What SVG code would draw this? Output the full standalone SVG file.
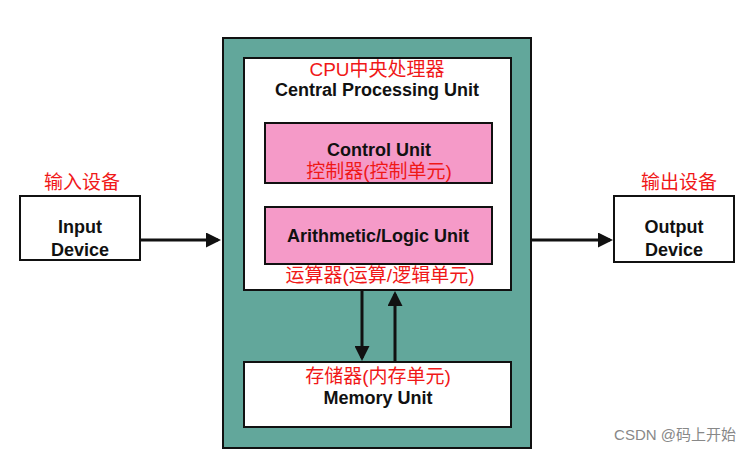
<svg xmlns="http://www.w3.org/2000/svg" width="751" height="452" viewBox="0 0 751 452">
<style>
.b{stroke:#111;stroke-width:2}
.en{font-family:"Liberation Sans",Arial,sans-serif;font-weight:bold;font-size:18px;fill:#111;text-anchor:middle}
.cn{font-family:"Liberation Sans","Noto Sans CJK SC",sans-serif;font-size:19px;fill:#f01818;text-anchor:middle}
.c{stroke:#111;stroke-width:3;fill:none}
</style>
<defs><marker id="a" markerWidth="5" markerHeight="5" refX="4" refY="2.5" orient="auto" markerUnits="strokeWidth"><path d="M0,0L5,2.5L0,5z" fill="#111"/></marker></defs>
<rect width="751" height="452" fill="#fff"/>
<g id="cpu-outer"><rect x="223" y="38" width="308" height="410" fill="#62a79b" class="b"/></g>
<g id="cpu"><rect x="244" y="58" width="267" height="232" fill="#fff" class="b"/>
<text x="377" y="76" class="cn">CPU中央处理器</text>
<text x="377" y="96" class="en">Central Processing Unit</text></g>
<g id="control"><rect x="265" y="123" width="227" height="60" fill="#f59ac8" class="b"/>
<text x="379" y="156" class="en">Control Unit</text>
<text x="379" y="178" class="cn">控制器(控制单元)</text></g>
<g id="alu"><rect x="265" y="207" width="227" height="57" fill="#f59ac8" class="b"/>
<text x="378" y="242" class="en">Arithmetic/Logic Unit</text>
<text x="380" y="282" class="cn">运算器(运算/逻辑单元)</text></g>
<g id="memory"><rect x="244" y="362" width="267" height="65" fill="#fff" class="b"/>
<text x="378" y="383" class="cn">存储器(内存单元)</text>
<text x="378" y="404" class="en">Memory Unit</text></g>
<g id="input"><rect x="20" y="196" width="120" height="64" fill="#fff" class="b"/>
<text x="80" y="233" class="en">Input</text><text x="80" y="256" class="en">Device</text>
<text x="82" y="189" class="cn">输入设备</text></g>
<g id="output"><rect x="614" y="196" width="120" height="66" fill="#fff" class="b"/>
<text x="674" y="233" class="en">Output</text><text x="674" y="256" class="en">Device</text>
<text x="679" y="189" class="cn">输出设备</text></g>
<g id="connectors">
<line x1="140" y1="240" x2="218" y2="240" class="c" marker-end="url(#a)"/>
<line x1="531" y1="240" x2="610" y2="240" class="c" marker-end="url(#a)"/>
<line x1="362" y1="290" x2="362" y2="358" class="c" marker-end="url(#a)"/>
<line x1="395" y1="362" x2="395" y2="294" class="c" marker-end="url(#a)"/>
</g>
<text x="736" y="440" font-family="'Liberation Sans','Noto Sans CJK SC',sans-serif" font-size="15" fill="#888" text-anchor="end">CSDN @码上开始</text>
</svg>
